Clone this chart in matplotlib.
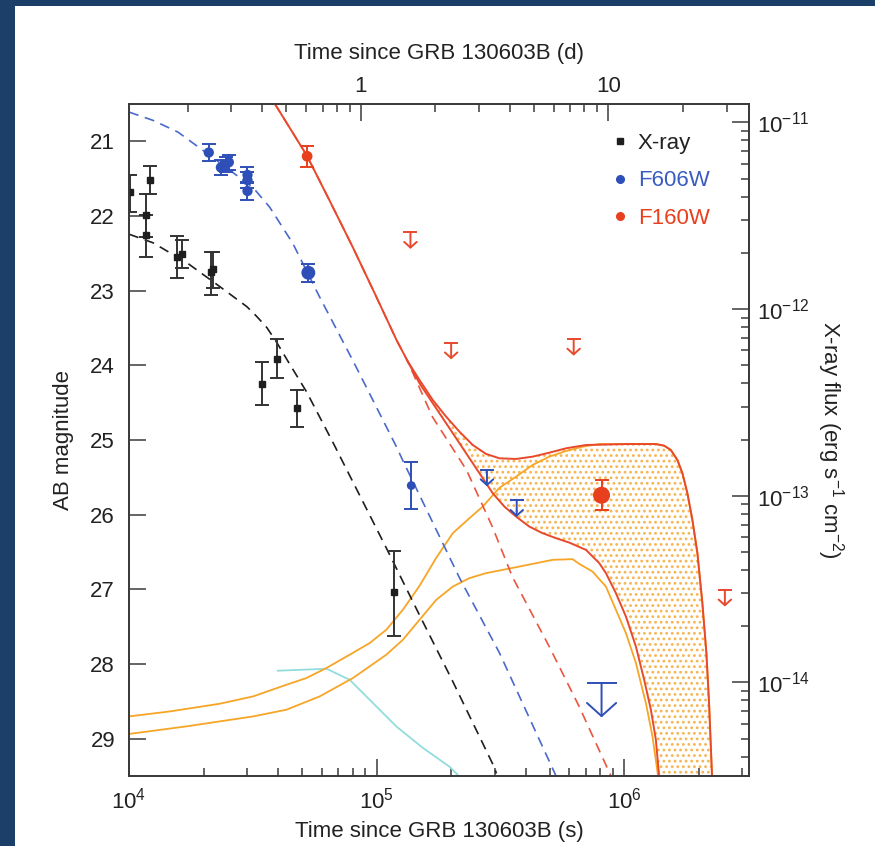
import numpy as np
import matplotlib.pyplot as plt
from matplotlib.lines import Line2D
from matplotlib.patches import Rectangle
from matplotlib.ticker import LogLocator, NullFormatter, NullLocator

plt.rcParams["font.family"] = ["Liberation Sans", "DejaVu Sans"]
plt.rcParams["mathtext.default"] = "regular"
plt.rcParams["font.size"] = 16
plt.rcParams["hatch.linewidth"] = 1.2

#---------------------------------
# X-ray data (flux, right axis)
#---------------------------------
xray_t = np.array([1.01e4, 1.17e4, 1.17e4, 1.215e4, 1.566e4, 1.636e4,
                   2.141e4, 2.188e4, 3.46e4, 3.96e4, 4.79e4, 1.171e5])
xray_flux = np.array([4.22e-12, 3.19e-12, 2.48e-12, 4.91e-12, 1.90e-12, 1.98e-12,
                      1.58e-12, 1.64e-12, 3.99e-13, 5.42e-13, 2.94e-13, 3.03e-14])
xray_lo = np.array([3.31e-12, 2.44e-12, 1.91e-12, 4.13e-12, 1.46e-12, 1.66e-12,
                    1.19e-12, 1.30e-12, 3.05e-13, 4.26e-13, 2.34e-13, 1.77e-14])
xray_hi = np.array([5.21e-12, 4.13e-12, 3.19e-12, 5.82e-12, 2.47e-12, 2.35e-12,
                    2.03e-12, 2.03e-12, 5.19e-13, 6.87e-13, 3.67e-13, 5.05e-14])

#------------------------
# HST photometry (AB mag)
#------------------------
f606_t = np.array([2.10e4, 2.35e4, 2.46e4, 2.53e4, 3.01e4, 3.01e4, 3.01e4, 5.30e4, 1.38e5])
f606_mag = np.array([21.15, 21.35, 21.31, 21.28, 21.45, 21.52, 21.665, 22.76, 25.61])
f606_err = np.array([0.115, 0.095, 0.10, 0.10, 0.11, 0.11, 0.12, 0.12, 0.32])

f160_t = np.array([5.24e4, 8.10e5])
f160_mag = np.array([21.20, 25.74])
f160_err_lo = np.array([0.14, 0.21])
f160_err_hi = np.array([0.14, 0.20])

# upper limits
f606_ul_t = np.array([2.79e5, 3.68e5])
f606_ul_mag = np.array([25.40, 25.81])
f606_deep_ul_t = np.array([8.10e5])
f606_deep_ul_mag = np.array([28.255])
f160_ul_t = np.array([1.37e5, 2.0e5, 6.25e5, 2.55e6])
f160_ul_mag = np.array([22.22, 23.70, 23.65, 27.01])

#----------------------------------
# Model curves (log10 t [s], value)
#----------------------------------
xray_model_lt = np.array([4.0, 4.0968, 4.2339, 4.3669, 4.4758, 4.5161, 4.5565, 4.5968,
                          4.6371, 4.7177, 4.8226, 5.0403, 5.1734, 5.3065, 5.4758, 5.4839])
xray_model_logf = np.array([-11.599, -11.645, -11.752, -11.880, -11.987, -12.040, -12.099,
                            -12.179, -12.269, -12.445, -12.712, -13.283, -13.640, -13.992,
                            -14.456, -14.488])

f606_model_lt = np.array([4.0, 4.0968, 4.1976, 4.2984, 4.4073, 4.5, 4.5685, 4.6613,
                          4.7702, 4.9032, 5.0806, 5.1048, 5.3347, 5.4960, 5.7258])
f606_model_mag = np.array([20.608, 20.719, 20.876, 21.120, 21.388, 21.615, 21.883, 22.365,
                           23.087, 23.930, 25.094, 25.268, 26.846, 27.850, 29.508])

# afterglow part of F160W before the split
f160_early_lt = np.array([4.5887, 4.7177, 4.8105, 4.9032, 4.9919, 5.0806, 5.125])
f160_early_mag = np.array([20.496, 21.187, 21.796, 22.414, 23.033, 23.662, 23.943])

# afterglow only (dashed)
f160_ag_lt = np.array([5.125, 5.2258, 5.3629, 5.4677, 5.5484, 5.6976, 5.8185, 5.9476])
f160_ag_mag = np.array([23.943, 24.692, 25.401, 26.164, 26.833, 27.769, 28.572, 29.508])

# afterglow + kilonova, bright / faint models
f160_hi_lt = np.array([5.1734, 5.2270, 5.2810, 5.3347, 5.3883, 5.4423, 5.4960, 5.5633,
                       5.6302, 5.6976, 5.7649, 5.8456, 6.0069, 6.1278, 6.1613, 6.1883,
                       6.2149, 6.2351, 6.2552, 6.2754, 6.2956, 6.3157, 6.3319, 6.3427,
                       6.3548])
f160_hi_mag = np.array([24.197, 24.465, 24.688, 24.889, 25.067, 25.187, 25.245, 25.254,
                        25.223, 25.170, 25.111, 25.067, 25.054, 25.054, 25.076, 25.134,
                        25.268, 25.445, 25.713, 26.070, 26.515, 27.184, 27.853, 28.522,
                        29.508])
f160_lo_lt = np.array([5.1734, 5.2270, 5.2944, 5.3617, 5.4153, 5.4690, 5.5161, 5.5633,
                       5.6169, 5.6706, 5.7246, 5.7782, 5.8456, 5.8992, 5.9262, 5.9665,
                       6.0069, 6.0472, 6.0806, 6.1077, 6.1278, 6.1411])
f160_lo_mag = np.array([24.241, 24.509, 24.843, 25.178, 25.445, 25.713, 25.892, 26.026,
                        26.160, 26.248, 26.315, 26.374, 26.472, 26.649, 26.783, 27.051,
                        27.364, 27.765, 28.211, 28.612, 29.013, 29.508])

# kilonova alone
kn_hi_lt = np.array([4.0, 4.1653, 4.3669, 4.5012, 4.6359, 4.7165, 4.7972, 4.8911,
                     4.9718, 5.0391, 5.1060, 5.1734, 5.2407, 5.3077, 5.3750, 5.4286,
                     5.4960, 5.5633, 5.6302, 5.6976, 5.7649, 5.8319, 5.8992, 6.0069,
                     6.1278, 6.1613, 6.1883, 6.2149, 6.2351, 6.2552, 6.2754, 6.2956,
                     6.3157, 6.3319, 6.3427, 6.3548])
kn_hi_mag = np.array([28.702, 28.635, 28.532, 28.434, 28.278, 28.188, 28.054, 27.876,
                      27.720, 27.542, 27.274, 26.953, 26.579, 26.248, 26.047, 25.892,
                      25.640, 25.491, 25.334, 25.223, 25.147, 25.090, 25.054, 25.054,
                      25.054, 25.076, 25.134, 25.268, 25.445, 25.713, 26.070, 26.515,
                      27.184, 27.853, 28.522, 29.508])
kn_lo_lt = np.array([4.0, 4.2327, 4.5012, 4.6359, 4.7702, 4.9044, 5.0391, 5.1060,
                     5.1734, 5.2407, 5.3077, 5.3750, 5.4423, 5.5766, 5.7109, 5.7915,
                     5.8185, 5.8722, 5.9262, 5.9665, 6.0069, 6.0472, 6.0875, 6.1141,
                     6.1371])
kn_lo_mag = np.array([28.937, 28.835, 28.702, 28.612, 28.434, 28.188, 27.876, 27.676,
                      27.408, 27.141, 26.963, 26.850, 26.783, 26.695, 26.605, 26.596,
                      26.659, 26.762, 26.963, 27.274, 27.586, 27.987, 28.522, 28.969,
                      29.508])

# F606W kilonova
kn606_lt = np.array([4.6008, 4.7984, 4.8911, 4.9718, 5.0806, 5.1855, 5.2944, 5.3347])
kn606_mag = np.array([28.090, 28.064, 28.211, 28.478, 28.839, 29.120, 29.375, 29.508])

#--------
# Colours
#--------
C_BLACK = "#1e1e1e"
C_BLUE = "#2f4fb8"
C_BLUE_D = "#4a6acb"
C_RED = "#e8401e"
C_RED_L = "#e8492c"
C_RED_D = "#ea5540"
C_ORANGE = "#f6a526"
C_DOTS = "#f6b450"
C_CYAN = "#93dcdc"
C_AXIS = "#3a3a3a"
C_TEXT = "#222222"

T_MIN, T_MAX = 1e4, 10 ** 6.504
MAG_TOP, MAG_BOT = 20.5, 29.5
M0 = 20.746  # magnitude that lines up with 1e-11 on the flux axis

#-------
# Figure
#-------
fig = plt.figure(figsize=(8.75, 8.46), dpi=100)
fig.patch.set_facecolor("#1c3f69")
bg = Rectangle((15 / 875, 0), 1, 1 - 6 / 846, transform=fig.transFigure,
               facecolor="white", edgecolor="none", zorder=-10)
fig.add_artist(bg)

ax = fig.add_axes([129 / 875, 1 - 776 / 846, 620 / 875, 672 / 846])
ax.set_facecolor("none")
ax.set_xscale("log")
ax.set_xlim(T_MIN, T_MAX)
ax.set_ylim(MAG_BOT, MAG_TOP)

# dotted band between the two afterglow+kilonova models
band_lt = np.concatenate([[f160_early_lt[-1]], f160_hi_lt, f160_lo_lt[::-1]])
band_mag = np.concatenate([[f160_early_mag[-1]], f160_hi_mag, f160_lo_mag[::-1]])
ax.fill(10 ** band_lt, band_mag, facecolor="none", edgecolor=C_DOTS, linewidth=0,
        hatch="...", zorder=1)

ax.plot(10 ** kn606_lt, kn606_mag, color=C_CYAN, lw=1.3, zorder=2)
ax.plot(10 ** kn_hi_lt, kn_hi_mag, color=C_ORANGE, lw=1.3, zorder=2)
ax.plot(10 ** kn_lo_lt, kn_lo_mag, color=C_ORANGE, lw=1.3, zorder=2)

ax.plot(10 ** f606_model_lt, f606_model_mag, color=C_BLUE_D, lw=1.2, dashes=(6, 4), zorder=3)
ax.plot(10 ** np.concatenate([f160_early_lt, f160_ag_lt[1:]]),
        np.concatenate([f160_early_mag, f160_ag_mag[1:]]),
        color=C_RED_D, lw=1.2, dashes=(6, 4), zorder=3)
ax.plot(10 ** np.concatenate([f160_early_lt, f160_hi_lt]),
        np.concatenate([f160_early_mag, f160_hi_mag]), color=C_RED_L, lw=1.4, zorder=4)
ax.plot(10 ** np.concatenate([[f160_early_lt[-1]], f160_lo_lt]),
        np.concatenate([[f160_early_mag[-1]], f160_lo_mag]), color=C_RED_L, lw=1.4, zorder=4)

# photometry
ax.errorbar(f606_t, f606_mag, yerr=f606_err, fmt="none", ecolor=C_BLUE, elinewidth=1.4,
            capsize=5, capthick=1.4, zorder=5)
ax.scatter(f606_t, f606_mag, s=[55, 55, 55, 55, 55, 55, 55, 100, 40], color=C_BLUE,
           edgecolors="none", zorder=6)
ax.errorbar(f160_t, f160_mag, yerr=[f160_err_lo, f160_err_hi], fmt="none", ecolor=C_RED,
            elinewidth=1.4, capsize=5, capthick=1.4, zorder=5)
ax.scatter(f160_t, f160_mag, s=[60, 150], color=C_RED, edgecolors="none", zorder=6)


def upper_limits(t, mag, color, cap, length, scale):
    ax.plot(t, mag, ls="none", marker="_", ms=cap, mew=1.4, color=color, zorder=5)
    for ti, mi in zip(t, mag):
        ax.annotate("", xy=(ti, mi + length), xytext=(ti, mi),
                    arrowprops=dict(arrowstyle="->,head_length=0.45,head_width=0.5",
                                    color=color, lw=1.4, shrinkA=0, shrinkB=0,
                                    mutation_scale=scale), zorder=5)


upper_limits(f606_ul_t, f606_ul_mag, C_BLUE, 10, 0.22, 9)
upper_limits(f160_ul_t, f160_ul_mag, C_RED_L, 10, 0.22, 9)
upper_limits(f606_deep_ul_t, f606_deep_ul_mag, C_BLUE, 21, 0.46, 21)

# axis styling
for sp in ax.spines.values():
    sp.set_color(C_AXIS)
    sp.set_linewidth(1.1)
ax.set_yticks(range(21, 30))
ax.yaxis.set_minor_locator(NullLocator())
ax.xaxis.set_major_locator(LogLocator(base=10, numticks=10))
ax.xaxis.set_minor_locator(LogLocator(base=10, subs=np.arange(2, 10), numticks=20))
ax.xaxis.set_minor_formatter(NullFormatter())
ax.tick_params(which="major", direction="in", length=12, width=1.1, color=C_AXIS,
               labelcolor=C_TEXT, labelsize=16, pad=8)
ax.tick_params(which="minor", direction="in", length=6, width=1.1, color=C_AXIS)
ax.tick_params(axis="y", right=False, pad=10)
ax.tick_params(axis="x", top=False)
ax.set_xlabel("Time since GRB 130603B (s)", fontsize=16, color=C_TEXT, labelpad=6)
ax.set_ylabel("AB magnitude", fontsize=16, color=C_TEXT, labelpad=12)

#------------------------
# Right axis: X-ray flux
#------------------------
ax2 = ax.twinx()
ax2.set_yscale("log")
ax2.set_ylim(10 ** (-11 - (MAG_BOT - M0) / 2.5), 10 ** (-11 - (MAG_TOP - M0) / 2.5))
ax2.plot(10 ** xray_model_lt, 10 ** xray_model_logf, color=C_BLACK, lw=1.2,
         dashes=(6, 4), zorder=3)
ax2.errorbar(xray_t, xray_flux, yerr=[xray_flux - xray_lo, xray_hi - xray_flux],
             fmt="s", ms=4.5, color=C_BLACK, ecolor="#333333", elinewidth=1.4,
             capsize=5, capthick=1.4, zorder=5)
ax2.yaxis.set_minor_locator(LogLocator(base=10, subs=np.arange(2, 10), numticks=20))
ax2.yaxis.set_minor_formatter(NullFormatter())
ax2.tick_params(which="major", direction="in", length=12, width=1.1, color=C_AXIS,
                labelcolor=C_TEXT, labelsize=16, pad=6)
ax2.tick_params(which="minor", direction="in", length=6, width=1.1, color=C_AXIS)
ax2.set_ylabel("X-ray flux (erg s$^{-1}$ cm$^{-2}$)", fontsize=16, color=C_TEXT,
               rotation=270, labelpad=26)
for sp in ax2.spines.values():
    sp.set_color(C_AXIS)
    sp.set_linewidth(1.1)

#---------------------
# Top axis: time (d)
#---------------------
ax3 = ax.twiny()
ax3.set_xscale("log")
ax3.set_xlim(T_MIN / 86400, T_MAX / 86400)
ax3.set_xticks([1, 10])
ax3.set_xticklabels(["1", "10"])
ax3.xaxis.set_minor_locator(LogLocator(base=10, subs=np.arange(2, 10), numticks=20))
ax3.xaxis.set_minor_formatter(NullFormatter())
ax3.tick_params(which="major", direction="in", length=12, width=1.1, color=C_AXIS,
                labelcolor=C_TEXT, labelsize=16, pad=5)
ax3.tick_params(which="minor", direction="in", length=6, width=1.1, color=C_AXIS)
ax3.set_xlabel("Time since GRB 130603B (d)", fontsize=16, color=C_TEXT, labelpad=12)
for sp in ax3.spines.values():
    sp.set_color(C_AXIS)
    sp.set_linewidth(1.1)

#-------
# Legend
#-------
handles = [
    Line2D([], [], ls="none", marker="s", ms=4.5, color=C_BLACK),
    Line2D([], [], ls="none", marker="o", ms=5.5, color=C_BLUE),
    Line2D([], [], ls="none", marker="o", ms=5.5, color=C_RED),
]
leg = ax3.legend(handles, ["X-ray", "F606W", "F160W"], loc="upper left",
                 bbox_to_anchor=(0.749, 0.987), frameon=False, fontsize=16,
                 handlelength=0.6, handletextpad=0.5, labelspacing=0.75)
for txt, c in zip(leg.get_texts(), [C_TEXT, "#3a5cc0", C_RED]):
    txt.set_color(c)

fig.savefig("out.png", dpi=100, facecolor=fig.get_facecolor())
